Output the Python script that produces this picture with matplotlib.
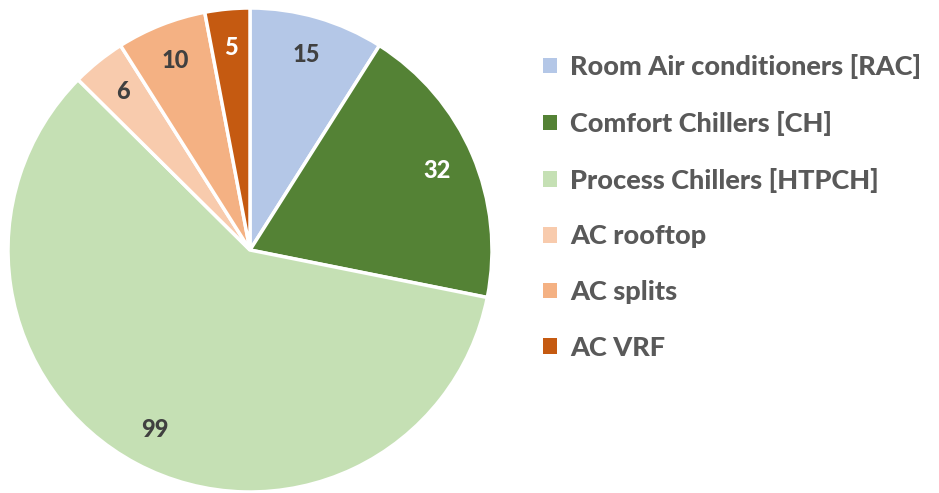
import matplotlib.pyplot as plt
from matplotlib.patches import Patch

plt.rcParams['font.family'] = ['Lato', 'DejaVu Sans']

labels = ['Room Air conditioners [RAC]', 'Comfort Chillers [CH]', 'Process Chillers [HTPCH]',
          'AC rooftop', 'AC splits', 'AC VRF']
values = [15, 32, 99, 6, 10, 5]
colors = ['#B4C7E7', '#548235', '#C5E0B4', '#F8CBAD', '#F4B183', '#C55A11']
text_colors = ['#404040', 'white', '#404040', '#404040', '#404040', 'white']

fig = plt.figure(figsize=(9.39, 4.93), dpi=100)
ax = fig.add_axes([8 / 939, 1 / 493, 484 / 939, 484 / 493])

wedges, texts = ax.pie(values, colors=colors, startangle=90, counterclock=False,
                       labels=[str(v) for v in values], labeldistance=0.84,
                       wedgeprops=dict(edgecolor='white', linewidth=2.5))
for t, c in zip(texts, text_colors):
    t.set_color(c)
    t.set_fontsize(17)
    t.set_fontweight('black')
    t.set_ha('center')
    t.set_va('center')
ax.set_xlim(-1.0, 1.0)
ax.set_ylim(-1.0, 1.0)
ax.set_aspect('equal')

handles = [Patch(facecolor=c, edgecolor='none') for c in colors]
leg = fig.legend(handles, labels, loc='upper left', bbox_to_anchor=(519 / 939, 1 - 30 / 493),
                 frameon=False, handlelength=0.5, handleheight=0.5, handletextpad=0.5,
                 labelspacing=1.17, prop=dict(size=19.5, weight='black'))
for t in leg.get_texts():
    t.set_color('#595959')

fig.savefig('out.png', dpi=100)
